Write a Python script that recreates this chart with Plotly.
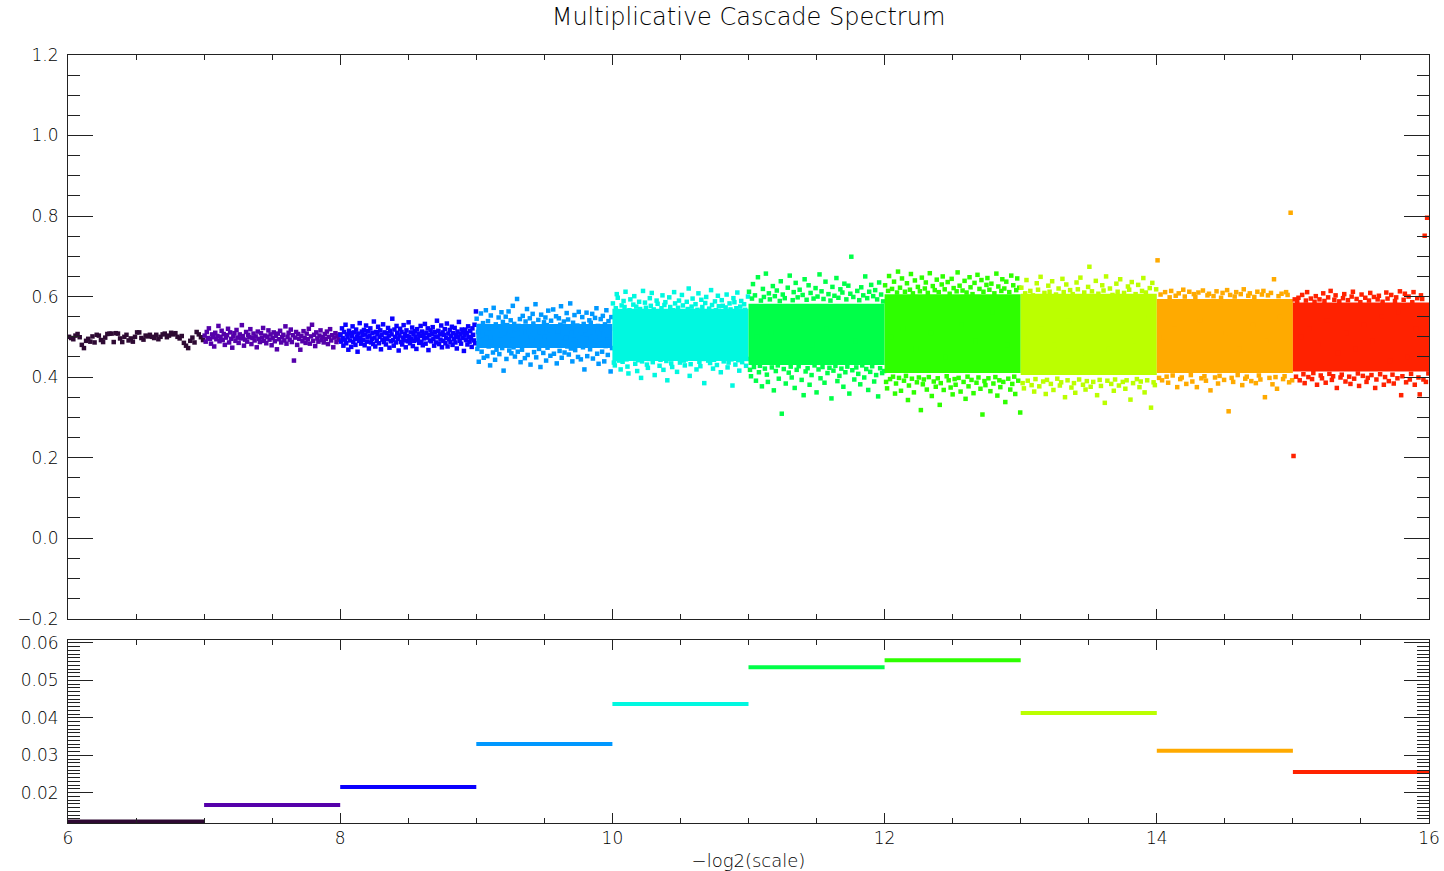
import numpy as np
import plotly.graph_objects as go

# ---------------- data ----------------
octave_start = [6, 7, 8, 9, 10, 11, 12, 13, 14, 15]
octave_colors = ["#2e0a33", "#5500aa", "#0a00ff", "#0098ff", "#00f8e0",
                 "#00ff48", "#2eff00", "#bbff00", "#ffaa00", "#ff2200"]
# lower panel: spectrum value per octave
spectrum_values = [0.0123, 0.0167, 0.0215, 0.0330, 0.0437,
                   0.0535, 0.0554, 0.0413, 0.0312, 0.0255]

# dense core of the coefficient cloud (octaves where the points merge)
core_octaves = [9, 10, 11, 12, 13, 14, 15]
core_low = [0.472, 0.440, 0.430, 0.410, 0.405, 0.410, 0.414]
core_high = [0.532, 0.570, 0.582, 0.606, 0.607, 0.594, 0.585]

# coefficient samples per octave (thousandths)
oct6 = [500, 497, 494, 503, 507, 499, 480, 472, 490, 495, 488, 501, 486, 505, 503, 492,
        487, 498, 507, 508, 508, 487, 509, 508, 496, 487, 500, 505, 491, 496, 488, 500,
        511, 511, 497, 493, 503, 501, 505, 500, 497, 505, 494, 500, 506, 508, 499, 503,
        510, 506, 509, 500, 496, 502, 485, 478, 472, 490, 498, 486, 512, 506, 499, 492]

oct7 = [503, 488, 512, 497, 521, 495, 483, 506, 499, 476, 510, 494, 502, 527, 489, 500,
        515, 492, 507, 480, 498, 504, 520, 486, 511, 495, 473, 501, 509, 490, 517, 498,
        485, 506, 496, 529, 502, 478, 493, 512, 488, 505, 499, 519, 482, 497, 508, 491,
        501, 474, 513, 495, 487, 509, 498, 522, 490, 503, 484, 500, 516, 493, 506, 479,
        497, 511, 489, 502, 469, 508, 494, 515, 486, 499, 505, 491, 526, 483, 500, 510,
        493, 518, 487, 504, 441, 498, 512, 480, 507, 495, 468, 502, 489, 514, 497, 485,
        508, 494, 520, 483, 501, 530, 490, 505, 477, 511, 496, 488, 503, 516, 492, 499,
        486, 507, 495, 513, 482, 500, 519, 491, 504, 474, 498, 509, 487, 502, 493, 506]

oct8 = [505, 488, 521, 497, 478, 512, 493, 530, 484, 506, 499, 468, 515, 491, 509, 475,
        502, 526, 487, 511, 495, 480, 518, 500, 463, 508, 490, 534, 497, 483, 513, 504,
        492, 517, 479, 506, 528, 488, 499, 514, 471, 503, 521, 486, 495, 510, 482, 538,
        498, 476, 512, 490, 507, 525, 484, 500, 516, 469, 505, 493, 531, 487, 511, 496,
        481, 509, 494, 522, 503, 473, 515, 489, 506, 545, 492, 478, 518, 500, 486, 527,
        510, 495, 466, 503, 520, 487, 512, 481, 498, 529, 491, 507, 474, 516, 502, 489,
        536, 499, 484, 511, 495, 523, 477, 506, 490, 514, 500, 470, 519, 493, 508, 485,
        502, 527, 488, 513, 479, 505, 496, 532, 483, 510, 498, 521, 467, 504, 491, 516,
        489, 507, 524, 495, 478, 512, 501, 486, 540, 499, 515, 482, 506, 493, 528, 474,
        511, 490, 505, 519, 484, 497, 533, 476, 508, 494, 517, 487, 502, 525, 480, 509,
        495, 522, 486, 504, 471, 513, 499, 537, 490, 507, 483, 518, 497, 511, 465, 503,
        518, 492, 509, 481, 526, 500, 488, 514, 496, 475, 521, 505, 491, 530, 484, 563]

oct9 = [545, 470, 512, 438, 527, 491, 558, 463, 505, 534, 448, 519, 482, 566, 497, 452,
        539, 476, 521, 429, 553, 487, 510, 461, 572, 499, 443, 531, 468, 516, 484, 548,
        457, 525, 493, 561, 472, 537, 416, 508, 480, 550, 445, 529, 489, 563, 466, 515,
        541, 459, 503, 577, 474, 532, 451, 518, 486, 594, 463, 527, 495, 544, 437, 509,
        468, 552, 484, 523, 447, 538, 499, 569, 455, 514, 478, 546, 431, 520, 492, 557,
        533, 462, 507, 581, 449, 526, 488, 542, 470, 512, 425, 555, 481, 519, 460, 536,
        501, 548, 441, 529, 473, 565, 494, 517, 453, 540, 485, 507, 568, 458, 524, 479,
        551, 434, 513, 490, 546, 465, 530, 576, 448, 509, 487, 538, 461, 522, 497, 559,
        476, 543, 456, 520, 583, 471, 511, 439, 535, 493, 554, 467, 516, 482, 528, 450,
        562, 489, 526, 444, 508, 549, 474, 532, 419, 517, 496, 560, 452, 523, 486, 541,
        469, 535, 501, 557, 446, 514, 479, 547, 490, 571, 458, 527, 433, 510, 483, 544,
        518, 463, 552, 495, 439, 531, 477, 566, 505, 455, 539, 487, 520, 414, 549, 472]

oct10 = [583, 436, 429, 571, 606, 597, 441, 500, 419, 578, 438, 589, 574, 612, 444, 426,
         409, 566, 593, 520, 447, 580, 601, 433, 575, 415, 442, 587, 569, 398, 439, 614,
         490, 585, 572, 431, 423, 445, 596, 577, 609, 437, 568, 405, 541, 590, 582, 446,
         428, 443, 571, 603, 418, 579, 586, 440, 392, 467, 598, 574, 434, 425, 566, 611,
         583, 447, 413, 572, 590, 436, 530, 604, 578, 441, 429, 444, 587, 569, 620, 403,
         432, 575, 595, 480, 446, 581, 419, 567, 608, 438, 427, 592, 574, 445, 385, 584,
         599, 510, 441, 570, 435, 616, 579, 421, 443, 588, 566, 430, 602, 576, 447, 412,
         591, 577, 439, 455, 573, 605, 424, 436, 583, 568, 444, 379, 596, 586, 431, 571,
         610, 442, 416, 575, 589, 437, 500, 581, 567, 428, 445, 600]

oct11 = [612, 418, 402, 595, 631, 425, 603, 391, 500, 648, 412, 428, 590, 377, 619, 599,
         421, 657, 406, 388, 608, 593, 510, 424, 626, 367, 601, 415, 615, 429, 396, 589,
         638, 309, 605, 420, 596, 384, 460, 622, 411, 652, 426, 399, 591, 611, 373, 634,
         418, 598, 427, 617, 540, 393, 604, 355, 643, 414, 592, 422, 628, 381, 609, 405,
         480, 595, 429, 621, 362, 600, 419, 655, 397, 613, 425, 594, 386, 637, 520, 410,
         606, 423, 590, 347, 624, 416, 602, 428, 646, 390, 597, 403, 618, 421, 610, 376,
         632, 412, 593, 426, 627, 359, 607, 699, 417, 599, 394, 490, 424, 614, 408, 591,
         382, 623, 429, 603, 399, 650, 420, 596, 368, 612, 413, 629, 427, 601, 389, 616,
         405, 593, 352, 635, 422, 605, 410, 588, 415]

oct12 = [628, 388, 372, 614, 651, 395, 500, 619, 401, 637, 359, 384, 610, 662, 398, 622,
         366, 645, 520, 391, 612, 403, 633, 343, 379, 617, 656, 396, 608, 362, 640, 470,
         387, 624, 399, 613, 318, 647, 382, 394, 620, 635, 369, 609, 400, 658, 510, 353,
         626, 389, 616, 376, 642, 397, 611, 331, 385, 630, 650, 368, 618, 450, 402, 636,
         392, 607, 374, 644, 357, 621, 395, 381, 613, 660, 398, 627, 364, 530, 615, 388,
         639, 346, 610, 401, 377, 648, 623, 393, 606, 360, 634, 490, 386, 654, 399, 619,
         371, 641, 307, 612, 390, 380, 629, 646, 397, 617, 365, 632, 560, 384, 608, 400,
         657, 354, 625, 392, 375, 614, 643, 388, 620, 338, 637, 480, 396, 611, 369, 652,
         383, 628, 401, 358, 616, 645, 391, 622, 312]

oct13 = [622, 385, 372, 608, 641, 391, 500, 614, 380, 603, 364, 395, 633, 617, 377, 649,
         520, 389, 609, 358, 393, 627, 612, 383, 638, 368, 480, 605, 396, 620, 379, 387,
         644, 611, 350, 630, 392, 540, 616, 374, 606, 385, 361, 635, 618, 394, 647, 460,
         381, 610, 369, 390, 624, 674, 376, 613, 388, 510, 639, 355, 607, 393, 378, 628,
         615, 336, 650, 391, 470, 620, 383, 604, 366, 394, 632, 612, 379, 643, 530, 388,
         609, 371, 392, 625, 617, 344, 636, 385, 490, 606, 395, 629, 375, 389, 614, 646,
         362, 610, 392, 550, 621, 324, 634, 387, 380, 618]

oct14 = [690, 398, 605, 392, 500, 611, 401, 386, 598, 614, 404, 520, 602, 375, 608, 395,
         399, 617, 600, 383, 480, 612, 405, 389, 606, 599, 375, 610, 540, 397, 615, 402,
         391, 603, 607, 367, 460, 601, 399, 613, 384, 403, 597, 609, 393, 510, 616, 315,
         604, 398, 388, 600, 611, 405, 470, 606, 380, 618, 396, 401, 602, 608, 390, 530,
         599, 385, 612, 404, 394, 605, 614, 350, 490, 603, 398, 609, 382, 643, 400, 371,
         601, 550, 607, 395, 402, 611, 604, 387, 808, 392]

oct15 = [204, 593, 401, 588, 597, 392, 500, 604, 407, 385, 590, 611, 400, 520, 595, 395,
         410, 587, 601, 381, 480, 593, 404, 397, 608, 589, 386, 540, 598, 408, 614, 393,
         402, 592, 603, 373, 460, 588, 399, 406, 596, 606, 389, 510, 591, 401, 383, 600,
         612, 396, 470, 594, 409, 378, 586, 605, 403, 530, 597, 388, 398, 590, 609, 405,
         490, 599, 373, 394, 593, 602, 407, 550, 587, 381, 400, 610, 595, 390, 440, 604,
         406, 384, 589, 598, 397, 560, 613, 355, 402, 592, 607, 387, 450, 600, 394, 408,
         586, 611, 381, 520, 596, 399, 357, 603, 594, 394, 751, 388, 796, 409]

samples = [oct6, oct7, oct8, oct9, oct10, oct11, oct12, oct13, oct14, oct15]

# ---------------- figure ----------------
fig = go.Figure()

for k, col, vals in zip(octave_start, octave_colors, samples):
    if k in core_octaves:
        j = core_octaves.index(k)
        lo, hi = core_low[j], core_high[j]
        fig.add_trace(go.Scatter(
            x=[k, k + 1, k + 1, k, k], y=[lo, lo, hi, hi, lo],
            mode="lines", fill="toself", fillcolor=col,
            line=dict(width=0, color=col), hoverinfo="skip",
            xaxis="x", yaxis="y"))
    n = len(vals)
    xs = k + (np.arange(n) + 0.5) / n
    fig.add_trace(go.Scatter(
        x=xs, y=np.array(vals) / 1000.0, mode="markers",
        marker=dict(symbol="square", size=4.5, color=col, line=dict(width=0)),
        xaxis="x", yaxis="y"))

for k, col, v in zip(octave_start, octave_colors, spectrum_values):
    fig.add_trace(go.Scatter(
        x=[k, k + 1], y=[v, v], mode="lines",
        line=dict(color=col, width=4),
        xaxis="x2", yaxis="y2"))

axcol = "#222222"
txtcol = "#000000"
font_tick = dict(family="DejaVu Sans", size=17, color=txtcol, weight=300)

common = dict(showline=True, linecolor=axcol, linewidth=1, mirror="ticks",
              ticks="inside", tickcolor=axcol, tickwidth=1, automargin=False,
              showgrid=False, zeroline=False, tickfont=font_tick)

fig.update_layout(
    width=1444, height=871,
    margin=dict(l=68, r=15, t=55, b=48),
    paper_bgcolor="white", plot_bgcolor="white",
    showlegend=False,
    font=font_tick,
    title=dict(text="Multiplicative Cascade Spectrum",
               x=0.5, xref="paper", xanchor="center",
               y=1 - 17 / 871, yref="container", yanchor="middle",
               font=dict(family="DejaVu Sans", size=24, color=txtcol, weight=300)),
    xaxis=dict(domain=[0, 1], anchor="y", range=[6, 16],
               tick0=6, dtick=2, ticklen=10, showticklabels=False,
               minor=dict(ticks="inside", dtick=0.5, ticklen=5, tickcolor=axcol, showgrid=False),
               **common),
    yaxis=dict(domain=[0.2661, 1], anchor="x", range=[-0.2, 1.2],
               tick0=0, dtick=0.2, tickformat=".1f", ticklen=25,
               ticklabelstandoff=5,
               minor=dict(ticks="inside", dtick=0.05, ticklen=12, tickcolor=axcol, showgrid=False),
               **common),
    xaxis2=dict(domain=[0, 1], anchor="y2", range=[6, 16],
                tick0=6, dtick=2, ticklen=10,
                minor=dict(ticks="inside", dtick=0.5, ticklen=5, tickcolor=axcol, showgrid=False),
                title=dict(text="\u2212log2(scale)", standoff=6,
                           font=dict(family="DejaVu Sans", size=18, color=txtcol, weight=300)),
                **common),
    yaxis2=dict(domain=[0, 0.2388], anchor="x2", range=[0.0119, 0.0609],
                tick0=0, dtick=0.01, tickformat=".2f", ticklen=25,
                ticklabelstandoff=5,
                minor=dict(ticks="inside", dtick=0.001, ticklen=12, tickcolor=axcol, showgrid=False),
                **common),
)

fig.write_html("out.html")
